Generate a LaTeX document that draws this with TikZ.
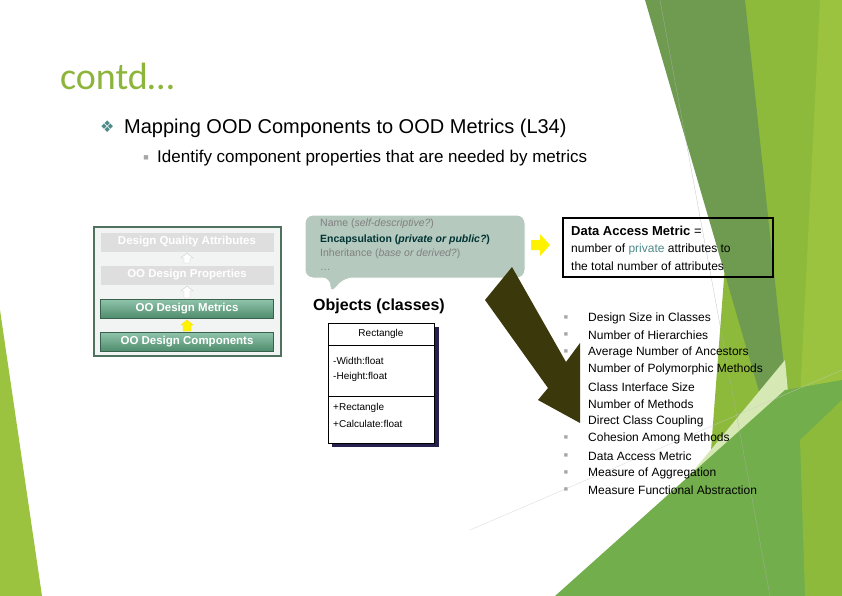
\documentclass[tikz,border=0pt]{standalone}
\usepackage{fontspec}
\setmainfont{Liberation Sans}
\newfontfamily\carl{Carlito}
\newfontfamily\dejav{DejaVu Sans}
\definecolor{brgreen}{HTML}{9BC33F}
\definecolor{brgreen2}{HTML}{8DBA3A}
\definecolor{dkband}{HTML}{6F9B50}
\definecolor{midgreen}{HTML}{72AE4C}
\definecolor{palegreen}{HTML}{D6E8B4}
\definecolor{titlegreen}{HTML}{8DB53C}
\definecolor{olive}{HTML}{3B380C}
\definecolor{callout}{HTML}{B5C9BE}
\definecolor{rowg1}{HTML}{8FC4AA}
\definecolor{rowg2}{HTML}{4E8A6C}
\definecolor{frameg}{HTML}{4E7160}
\definecolor{navy}{HTML}{25204E}
\definecolor{privc}{HTML}{4F8A8A}
\begin{document}
\begin{tikzpicture}[x=1pt,y=-1pt,
  lbl/.style={anchor=west,inner sep=0pt,font=\fontsize{12}{14}\selectfont},
  blt/.style={anchor=center,inner sep=0pt,font=\fontsize{7}{8}\selectfont,text=gray!70},
  rowbox/.style={minimum width=173pt,minimum height=19pt,inner sep=0pt,font=\bfseries\fontsize{11.5}{13}\selectfont},
  grey/.style={rowbox,fill=black!13,text=white},
  greenrow/.style={rowbox,top color=rowg1,bottom color=rowg2,text=white,draw=rowg2!70!black},
  uml/.style={anchor=west,inner sep=0pt,font=\fontsize{10}{12}\selectfont}]
\useasboundingbox (0,0) rectangle (842,596);
\fill[white] (0,0) rectangle (842,596);
% background shapes
\fill[brgreen] (0,310) -- (42,596) -- (0,596) -- cycle;
\fill[brgreen2] (745,0) -- (842,0) -- (842,596) -- (700,596) -- cycle;
\fill[brgreen] (820,0) -- (842,0) -- (842,596) -- (790,596) -- cycle;
\fill[dkband] (645,0) -- (745,0) -- (795,470) -- (782,470) -- cycle;
\fill[palegreen] (690,475) -- (785,360) -- (800,520) -- cycle;
\fill[midgreen] (555,596) -- (785,390) -- (842,380) -- (842,596) -- cycle;
\fill[brgreen2] (800,440) -- (842,400) -- (842,596) -- (805,596) -- cycle;
\draw[gray!60,very thin] (660,0) -- (770,596);
\draw[gray!40,very thin] (470,530) -- (842,370);
% title
\node[anchor=west,inner sep=0pt,text=titlegreen,font=\carl\fontsize{38}{40}\selectfont] (title) at (60,76) {contd…};
\node[anchor=west,inner sep=0pt,text=privc,font=\dejav\fontsize{16}{18}\selectfont] (dia) at (100,127) {❖};
\node[anchor=west,inner sep=0pt,font=\fontsize{20}{22}\selectfont] (l1) at (124,128) {Mapping OOD Components to OOD Metrics (L34)};
\node[blt,font=\fontsize{9}{10}\selectfont] (b0) at (146,158) {■};
\node[anchor=west,inner sep=0pt,font=\fontsize{17}{19}\selectfont] (l2) at (157,158) {Identify component properties that are needed by metrics};
% left box
\node[draw=frameg,line width=2pt,fill=frameg!8,minimum width=187pt,minimum height=129pt,inner sep=0pt] (frame) at (187,291) {};
\node[grey] (q) at (187,242) {Design Quality Attributes};
\node[grey] (p) at (187,275) {OO Design Properties};
\node[greenrow] (m) at (187,309) {OO Design Metrics};
\node[greenrow] (c) at (187,342) {OO Design Components};
\fill[white,draw=gray!40] (187,253) -- (193,258) -- (190,258) -- (190,263) -- (184,263) -- (184,258) -- (181,258) -- cycle;
\fill[white,draw=gray!40] (187,286) -- (193,291) -- (190,291) -- (190,298) -- (184,298) -- (184,291) -- (181,291) -- cycle;
\fill[yellow,draw=yellow!80!orange] (187,320) -- (193,325) -- (191,325) -- (191,331) -- (183,331) -- (183,325) -- (181,325) -- cycle;
% callout
\fill[callout,draw=white,line width=1pt,rounded corners=8pt] (305,215) -- (525,215) -- (525,278) -- (345,278) -- (330,294) -- (330,278) -- (305,278) -- cycle;
\node[anchor=west,inner sep=0pt,text=gray,font=\fontsize{10.5}{12}\selectfont] (n1) at (320,224) {Name (\textit{self-descriptive?})};
\node[anchor=west,inner sep=0pt,text=teal!40!black,font=\bfseries\fontsize{10.5}{12}\selectfont] (n2) at (320,240) {Encapsulation (\textit{private or public?})};
\node[anchor=west,inner sep=0pt,text=gray,font=\fontsize{10.5}{12}\selectfont] (n3) at (320,254) {Inheritance (\textit{base or derived?})};
\node[anchor=west,inner sep=0pt,text=gray,font=\fontsize{10.5}{12}\selectfont] (n4) at (320,270) {…};
\node[anchor=west,inner sep=0pt,font=\bfseries\fontsize{16}{18}\selectfont] (obj) at (313,306) {Objects (classes)};
% UML
\fill[navy] (332,327) rectangle (439,447);
\node[draw,fill=white,minimum width=106pt,minimum height=120pt,inner sep=0pt] (cls) at (381,383) {};
\draw (328,345) -- (434,345);
\draw (328,396) -- (434,396);
\node[anchor=center,inner sep=0pt,font=\fontsize{10}{12}\selectfont] (cn) at (381,334) {Rectangle};
\node[uml] (a1) at (333,361) {-Width:float};
\node[uml] (a2) at (333,377) {-Height:float};
\node[uml] (m1) at (333,408) {+Rectangle};
\node[uml] (m2) at (333,424) {+Calculate:float};
% yellow arrow
\fill[yellow] (531,240) -- (540,240) -- (540,234) -- (550,245) -- (540,256) -- (540,250) -- (531,250) -- cycle;
% data access box
\node[draw=black,line width=1.2pt,minimum width=210pt,minimum height=59pt,inner sep=0pt] (dam) at (668,247.5) {};
\node[anchor=west,inner sep=0pt,font=\fontsize{13}{15}\selectfont] (d1) at (571,231) {\textbf{Data Access Metric} =};
\node[anchor=west,inner sep=0pt,font=\fontsize{12}{14}\selectfont] (d2) at (571,249) {number of \textcolor{privc}{private} attributes to};
\node[anchor=west,inner sep=0pt,font=\fontsize{12}{14}\selectfont] (d3) at (571,266) {the total number of attributes};
% big arrow
\fill[olive] (512,267) -- (485,300) -- (548,388) -- (538,400) -- (580,423) -- (580,343) -- (566,362) -- cycle;
% list
\foreach \y in {318,335,352,438,456,473,490} \node[blt] at (566,\y) {■};
\node[lbl] (t1) at (588,318) {Design Size in Classes};
\node[lbl] (t2) at (588,335) {Number of Hierarchies};
\node[lbl] (t3) at (588,352) {Average Number of Ancestors};
\node[lbl] (t4) at (588,369) {Number of Polymorphic Methods};
\node[lbl] (t5) at (588,387) {Class Interface Size};
\node[lbl] (t6) at (588,404) {Number of Methods};
\node[lbl] (t7) at (588,421) {Direct Class Coupling};
\node[lbl] (t8) at (588,438) {Cohesion Among Methods};
\node[lbl] (t9) at (588,456) {Data Access Metric};
\node[lbl] (t10) at (588,473) {Measure of Aggregation};
\node[lbl] (t11) at (588,490) {Measure Functional Abstraction};
\end{tikzpicture}
\end{document}
